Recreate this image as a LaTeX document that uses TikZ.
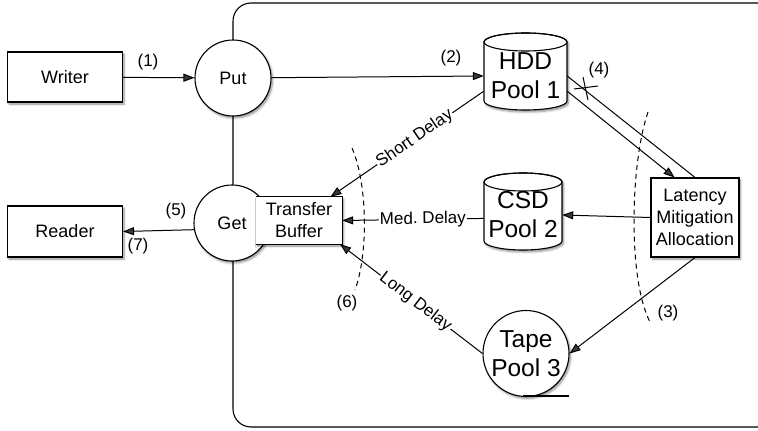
\documentclass[tikz,border=0pt]{standalone}
\usepackage{fontspec}
\setmainfont{Liberation Sans}
\usetikzlibrary{arrows.meta,shadows.blur}
\begin{document}
\begin{tikzpicture}[x=1pt,y=-1pt,
  shd/.style={blur shadow={shadow xshift=1.5pt,shadow yshift=-2pt,shadow blur steps=6,shadow opacity=45}},
  box/.style={draw,line width=1.1pt,fill=white,shd,font=\fontsize{18}{22}\selectfont,align=center,inner sep=0pt},
  circ/.style={circle,draw,line width=1.1pt,fill=white,shd,font=\fontsize{18}{22}\selectfont,align=center,inner sep=0pt},
  poolfont/.style={font=\fontsize{24.5}{29}\selectfont,align=center,inner sep=0pt},
  con/.style={line width=1pt,-{Triangle[length=11pt,width=8pt]}},
  plain/.style={line width=1pt},
  lab/.style={font=\fontsize{17}{20}\selectfont,inner sep=1pt},
  dlab/.style={lab,sloped,fill=white},
  sep/.style={line width=1pt,dash pattern=on 5pt off 4pt}
]
\useasboundingbox (0,0) rectangle (758,431);
\clip (0,0) rectangle (758,431);

% container
\draw[line width=1.1pt,rounded corners=18pt] (233,3) rectangle (790,427);

% left boxes
\node[box,minimum width=115pt,minimum height=50pt] (writer) at (65,77) {Writer};
\node[box,minimum width=115pt,minimum height=51pt] (reader) at (65,231.5) {Reader};

% put / get
\node[circ,minimum size=76pt] (put) at (233,78) {Put};
\node[circ,minimum size=76pt] (get) at (232,223) {Get};

% transfer buffer (open on the left, over the Get circle)
\node[fill=white,shd,minimum width=86pt,minimum height=47pt,inner sep=0pt,
      font=\fontsize{18}{22}\selectfont,align=center] (tb) at (299,220.5) {Transfer\\Buffer};
\draw[line width=1.1pt] (tb.north west) -- (tb.north east) -- (tb.south east) -- (tb.south west);

% HDD cylinder
\path[draw,line width=1.1pt,fill=white,shd] (484,42) -- (484,101)
  arc[start angle=180,end angle=360,x radius=41.5pt,y radius=9pt] -- (567,42)
  arc[start angle=0,end angle=180,x radius=41.5pt,y radius=9pt] -- cycle;
\draw[line width=1.1pt] (525.5,42) ellipse [x radius=41.5pt,y radius=9pt];
\node[poolfont,minimum width=83pt,minimum height=77pt] (hdd) at (525.5,76) {HDD\\Pool 1};

% CSD cylinder
\path[draw,line width=1.1pt,fill=white,shd] (484,182) -- (484,241)
  arc[start angle=180,end angle=360,x radius=39pt,y radius=9pt] -- (562,182)
  arc[start angle=0,end angle=180,x radius=39pt,y radius=9pt] -- cycle;
\draw[line width=1.1pt] (523,182) ellipse [x radius=39pt,y radius=9pt];
\node[poolfont,minimum width=78pt,minimum height=77pt] (csd) at (523,215) {CSD\\Pool 2};

% tape
\node[circ,poolfont,minimum size=86pt] (tape) at (526,353.5) {Tape\\Pool 3};
\draw[line width=2pt] (523,396) -- (569,396);

% latency box
\node[box,minimum width=88pt,minimum height=79pt] (lat) at (695,217.5) {Latency\\Mitigation\\Allocation};

% connectors
\draw[con] (writer) -- (put);
\draw[con] (put) -- (hdd.west);
\draw[plain] (hdd.east) -- (lat.north);
\draw[con] (hdd.-20) -- (lat.117);
\draw[con] (lat.west) -- (csd.east);
\draw[con] (lat.south) -- (tape.east);
\draw[con] (hdd.200) -- node[dlab,pos=0.45] {Short Delay} (tb.37);
\draw[con] (csd.185) -- node[dlab,pos=0.43] {Med.\ Delay} (tb.east);
\draw[con] (tape.west) -- node[dlab,pos=0.47] {Long Delay} (tb.-30);
\draw[con] (get.190) -- (reader.east);

% cut mark on the HDD link
\draw[plain] (574,89) -- (598,86) (583,77) -- (588,100);

% dashed separators
\draw[sep] (352,148) .. controls (368,185) and (368,255) .. (355,290);
\draw[sep] (648,112) .. controls (630,165) and (628,280) .. (650,322);

% step labels
\node[lab] (l1) at (148,62) {(1)};
\node[lab] (l2) at (451,58) {(2)};
\node[lab] (l3) at (668,313) {(3)};
\node[lab] (l4) at (599,70) {(4)};
\node[lab] (l5) at (176,211) {(5)};
\node[lab] (l6) at (347,303) {(6)};
\node[lab] (l7) at (138,246) {(7)};
\end{tikzpicture}
\end{document}
